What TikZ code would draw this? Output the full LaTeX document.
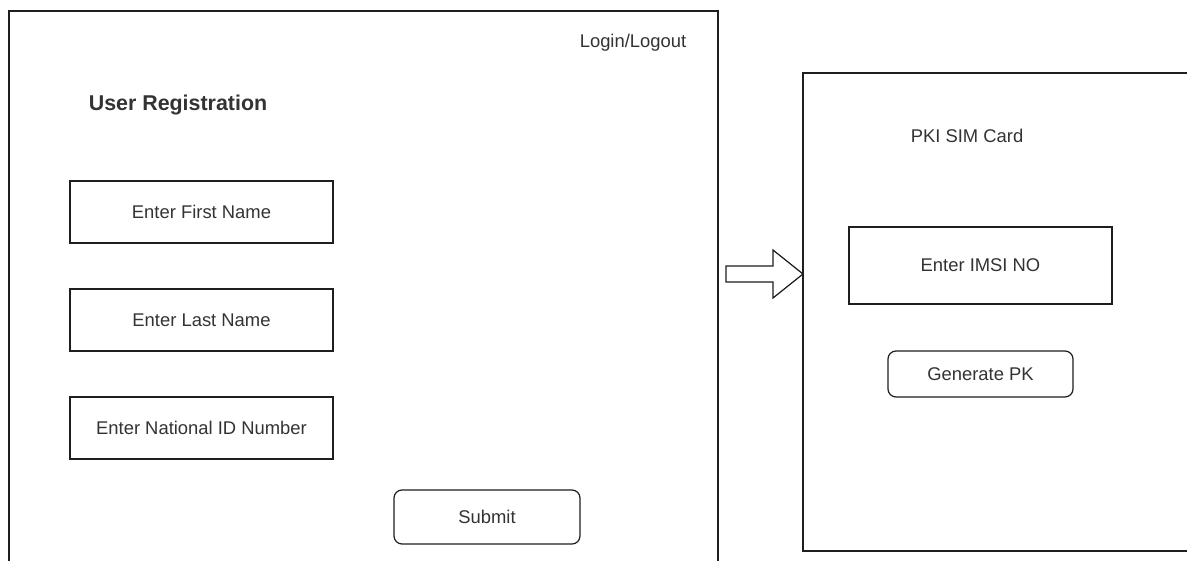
\documentclass[tikz,border=0pt]{standalone}
\usepackage{fontspec}
\setmainfont{Liberation Sans}
\definecolor{linec}{HTML}{1E1E1E}
\definecolor{textc}{HTML}{333333}
\begin{document}
\begin{tikzpicture}[x=1pt,y=-1pt,
  every node/.style={inner sep=0pt, text=textc, font=\fontsize{18.4}{22}\selectfont},
  panel/.style={draw=linec, line width=1.4pt, rectangle},
  field/.style={draw=linec, line width=1.4pt, rectangle, minimum width=263pt, minimum height=62pt},
  button/.style={draw=linec, line width=1.2pt, rectangle, rounded corners=8pt},
  label/.style={anchor=center}]
  \useasboundingbox (0,0) rectangle (1187,561);
  \fill[white] (0,0) rectangle (1187,561);
  \clip (0,0) rectangle (1187,561);

  % registration screen and SIM card screen (both run off the page)
  \node[panel, minimum width=709pt, minimum height=600pt] (reg) at (363.5,311) {};
  \node[panel, minimum width=440pt, minimum height=478pt] (sim) at (1023,312) {};

  % registration screen content
  \node[label] (login) at (633,43) {Login/Logout};
  \node[label, font=\fontsize{21.4}{24}\selectfont\bfseries] (title) at (178,105) {User Registration};
  \node[field] (first) at (201.5,212) {Enter First Name};
  \node[field] (last) at (201.5,320) {Enter Last Name};
  \node[field] (natid) at (201.5,428) {Enter National ID Number};
  \node[button, minimum width=186pt, minimum height=54pt] (submit) at (487,517) {Submit};

  % SIM card screen content
  \node[label] (simtitle) at (967,136) {PKI SIM Card};
  \node[field, minimum height=77pt] (imsi) at (980.5,265.5) {Enter IMSI NO};
  \node[button, minimum width=185pt, minimum height=46pt] (genpk) at (980.5,374) {Generate PK};

  % block arrow between the two screens
  \draw[linec, line width=1.2pt, line join=miter]
    (726,266) -- (773,266) -- (773,250) -- (803,274) -- (773,298)
    -- (773,282) -- (726,282) -- cycle;
\end{tikzpicture}
\end{document}
